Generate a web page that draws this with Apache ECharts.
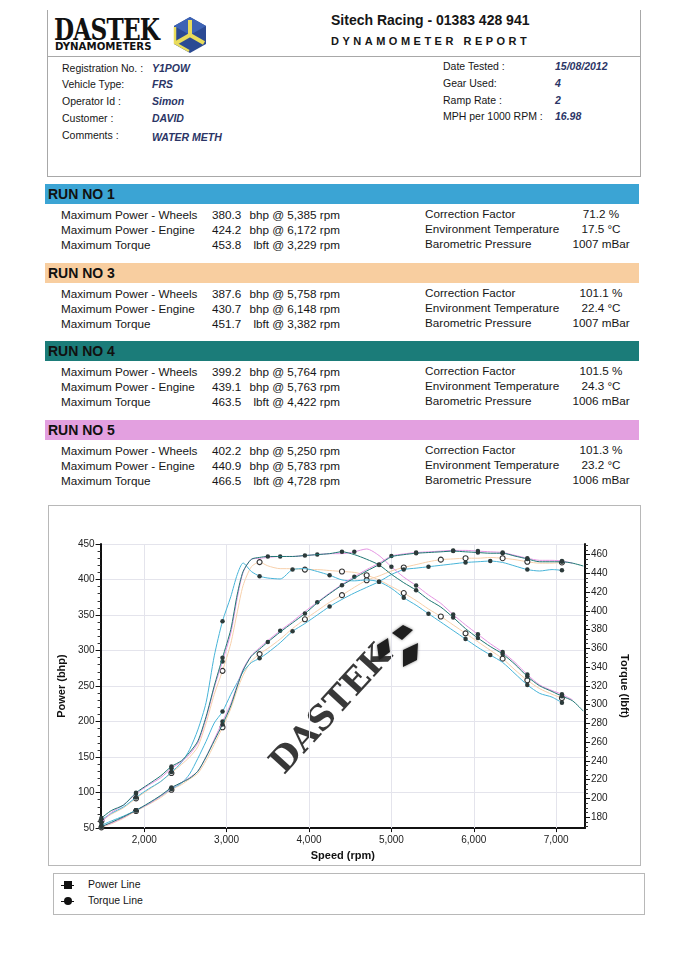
<!DOCTYPE html>
<html><head><meta charset="utf-8">
<script src="https://cdn.jsdelivr.net/npm/echarts@6.0.0/dist/echarts.min.js"></script>
<style>
html,body{margin:0;padding:0;background:#fff;}
#page{position:relative;width:686px;height:960px;overflow:hidden;font-family:"Liberation Sans",Arial,Helvetica,sans-serif;color:#161616;}
.t{position:absolute;white-space:nowrap;line-height:1;}
.ln{position:absolute;background:#a8a8a8;}
.bar{position:absolute;left:45px;width:594px;height:20px;}
#frame{position:absolute;left:48px;top:505px;width:593px;height:361px;border:1px solid #b8b8b8;box-sizing:border-box;}
#legend{position:absolute;left:53px;top:873px;width:592px;height:42px;border:1px solid #b8b8b8;box-sizing:border-box;}
#chart{position:absolute;left:48px;top:505px;width:593px;height:361px;}
</style></head>
<body><div id="page">
<div class="ln" style="left:47px;top:10px;width:1px;height:166px;"></div>
<div class="ln" style="left:640px;top:10px;width:1px;height:166px;"></div>
<div class="ln" style="left:47px;top:56px;width:594px;height:1px;"></div>
<div class="ln" style="left:47px;top:176px;width:594px;height:1px;"></div>
<div class="t" style="left:54px;top:16px;font-family:'DejaVu Serif',serif;font-weight:bold;font-size:29px;transform:scaleX(0.8);transform-origin:0 0;letter-spacing:-1px;color:#111;">DASTEK</div>
<div class="t" style="left:55px;top:41px;font-family:'DejaVu Sans',sans-serif;font-weight:bold;font-size:10.5px;transform:scaleX(0.97);transform-origin:0 0;color:#111;">DYNAMOMETERS</div>
<svg style="position:absolute;left:172px;top:16px;" width="36" height="38" viewBox="0 0 36 38">
<polygon points="18,1 34,10 34,28 18,37 2,28 2,10" fill="#2b4a93"/>
<polygon points="18,1 34,10 18,19 2,10" fill="#3d63b5"/>
<polyline points="18,19 18,4" stroke="#e9dc5a" stroke-width="4" fill="none"/>
<polyline points="18,19 4,27" stroke="#e9dc5a" stroke-width="4" fill="none"/>
<polyline points="18,19 32,27" stroke="#e9dc5a" stroke-width="4" fill="none"/>
<polyline points="3,11 3,27 17,35" stroke="#e9dc5a" stroke-width="2.5" fill="none"/>
</svg>
<div id="frame"></div>
<div id="legend"></div>
<div id="chart"></div>
</div>
<script>
// ---------- chart data ----------
const rpm = [1480,1600,1750,1900,2050,2200,2330,2450,2550,2650,2750,2850,2950,3050,3130,3200,3300,3400,3500,3650,3800,3950,4100,4250,4400,4550,4700,4850,5000,5150,5300,5450,5600,5750,5900,6050,6200,6350,6500,6650,6800,6950,7070,7200,7330];

const run1Power  = [54,60,67,75,84,95,105,113,126,148,172,198,214,238,255,270,283,289,297,311,327,338,350,362,372,381,389,397,407,414,416,418,420,422,424,425,426,424,419,414,412,414,413,null,null];
const run1Torque = [177,184,191,201,210,218,228,238,252,273,302,352,389,415,439,451,442,437,435,434,444,445,442,438,433,432,433,431,424,414,406,397,388,379,370,361,353,345,333,321,312,308,302,null,null];

const run3Power  = [51,56,64,74,83,93,104,111,119,127,145,168,192,218,245,265,285,295,303,316,331,344,356,368,378,389,399,405,412,417,421,425,428,429,430,430,431,430,428,425,423,423,424,null,null];
const run3Torque = [176,183,190,200,209,218,227,236,244,255,280,311,336,365,399,427,447,452,448,445,445,444,444,443,442,441,438,433,426,419,411,402,394,385,376,367,358,349,337,326,317,311,307,null,null];

const run4Power  = [52,58,66,75,85,96,107,114,120,130,150,173,196,222,250,272,292,302,312,326,339,352,367,380,392,402,412,421,432,435,437,438,439,440,439,438,437,437,433,429,425,425,425,423,419];
const run4Torque = [179,187,193,206,215,224,234,240,249,261,287,320,350,380,418,442,455,457,458,458,458,459,460,461,463,460,455,449,439,430,422,412,404,393,381,371,362,354,343,330,320,314,309,304,293];

const run5Power  = [52,57,65,75,84,95,106,114,121,130,150,175,200,225,252,274,293,304,314,328,341,355,368,381,393,404,414,423,433,436,438,439,440,441,441,440,439,438,434,430,427,427,426,423,null];
const run5Torque = [174,185,193,205,214,222,232,239,247,259,285,318,346,376,414,441,455,456,457,458,458,459,460,461,461,463,466,459,447,436,427,417,408,396,385,375,365,356,345,332,321,315,311,305,null];

// indices (into rpm) where the sampled points are marked
const run1Marks = [0,3,6,12,17,20,23,27,29,31,34,36,39,42];
const run3Marks = [0,3,6,12,17,21,24,26,29,32,34,37,39,42];
const run4Marks = [0,3,6,12,18,21,24,27,30,33,35,37,39,42];
const run5Marks = [0,3,6,12,19,22,25,28,30,33,35,37,39,42];

const speedTicks  = [2000,3000,4000,5000,6000,7000];
const torqueTicks = [180,200,220,240,260,280,300,320,340,360,380,400,420,440,460];
const torqueMinorTicks = [170,175,185,190,195,205,210,215,225,230,235,245,250,255,265,270,275,285,290,295,305,310,315,325,330,335,345,350,355,365,370,375,385,390,395,405,410,415,425,430,435,445,450,455,465,470];

// ---------- report text ----------
const runTitles = ['RUN NO 1','RUN NO 3','RUN NO 4','RUN NO 5'];
const runColors = ['#3ba4d4','#f8cea0','#1b7c79','#e3a0e0'];
const runTops = [184,263,341,420];
const rowLabels = ['Maximum Power - Wheels','Maximum Power - Engine','Maximum Torque'];
const rowValues = [
 [['380.3','bhp @ 5,385 rpm'],['424.2','bhp @ 6,172 rpm'],['453.8','lbft @ 3,229 rpm']],
 [['387.6','bhp @ 5,758 rpm'],['430.7','bhp @ 6,148 rpm'],['451.7','lbft @ 3,382 rpm']],
 [['399.2','bhp @ 5,764 rpm'],['439.1','bhp @ 5,763 rpm'],['463.5','lbft @ 4,422 rpm']],
 [['402.2','bhp @ 5,250 rpm'],['440.9','bhp @ 5,783 rpm'],['466.5','lbft @ 4,728 rpm']]
];
const envLabels = ['Correction Factor','Environment Temperature','Barometric Pressure'];
const envValues = [
 ['71.2 %','17.5 °C','1007 mBar'],
 ['101.1 %','22.4 °C','1007 mBar'],
 ['101.5 %','24.3 °C','1006 mBar'],
 ['101.3 %','23.2 °C','1006 mBar']
];
const infoLeft = [['Registration No. :','Y1POW',69],['Vehicle Type:','FRS',85],['Operator Id :','Simon',102],['Customer :','DAVID',119],['Comments :','WATER METH',136]];
const infoRight = [['Date Tested :','15/08/2012',67],['Gear Used:','4',84],['Ramp Rate :','2',101],['MPH per 1000 RPM :','16.98',117]];

const page = document.getElementById('page');
function txt(s, x, cy, size, extra, align){
  const d = document.createElement('div');
  d.className = 't';
  d.textContent = s;
  d.style.fontSize = size + 'px';
  d.style.top = (cy - size*0.56) + 'px';
  if (align === 'right') { d.style.right = (686 - x) + 'px'; }
  else if (align === 'center') { d.style.left = (x - 100) + 'px'; d.style.width = '200px'; d.style.textAlign = 'center'; }
  else d.style.left = x + 'px';
  if (extra) Object.assign(d.style, extra);
  page.appendChild(d);
  return d;
}
txt('Sitech Racing - 01383 428 941', 331, 21, 14, {fontWeight:'bold'});
txt('DYNAMOMETER REPORT', 331, 42, 11, {fontWeight:'bold', letterSpacing:'3.5px'});
const valStyle = {fontWeight:'bold', fontStyle:'italic', color:'#2b3566'};
infoLeft.forEach(r => { txt(r[0], 62, r[2], 10.5); txt(r[1], 152, r[2] + (r[1]==='WATER METH'?2:0), 10.5, valStyle); });
infoRight.forEach(r => { txt(r[0], 443, r[2], 10.5); txt(r[1], 555, r[2], 10.5, valStyle); });

runTitles.forEach((title, k) => {
  const top = runTops[k];
  const b = document.createElement('div');
  b.className = 'bar';
  b.style.top = top + 'px';
  b.style.background = runColors[k];
  page.appendChild(b);
  txt(title, 48, top + 11, 14, {fontWeight:'bold', color:'#111'});
  for (let r = 0; r < 3; r++) {
    const cy = top + 32 + r*15;
    txt(rowLabels[r], 61, cy, 11.7);
    txt(rowValues[k][r][0], 212, cy, 11.7);
    txt(rowValues[k][r][1], 340, cy, 11.7, null, 'right');
    txt(envLabels[r], 425, cy - 1, 11.7);
    txt(envValues[k][r], 601, cy - 1, 11.7, null, 'center');
  }
});

// legend
function legendItem(cy, label, shape){
  const l = document.createElement('div');
  l.style.cssText = 'position:absolute;left:61px;top:'+(cy-0.5)+'px;width:13px;height:1.5px;background:#111;';
  page.appendChild(l);
  const m = document.createElement('div');
  m.style.cssText = 'position:absolute;left:63.5px;top:'+(cy-4)+'px;width:8px;height:8px;background:#111;' + (shape==='circle'?'border-radius:50%;':'');
  page.appendChild(m);
  txt(label, 88, cy, 10.5);
}
legendItem(885, 'Power Line', 'square');
legendItem(901, 'Torque Line', 'circle');

// ---------- chart ----------
function makeSeries(name, vals, marks, color, yIdx, hollow, z){
  const data = [];
  vals.forEach((v, i) => {
    if (v == null) return;
    data.push({value: [rpm[i], v], symbol: marks.includes(i) ? 'circle' : 'none'});
  });
  return {
    type: 'line', name, yAxisIndex: yIdx, data, smooth: 0.25, z,
    showSymbol: true, symbolSize: hollow ? 5 : 4.5,
    lineStyle: {color, width: 1},
    itemStyle: hollow ? {color: '#ffffff', borderColor: '#333', borderWidth: 1.1} : {color: '#2c3a3a', borderWidth: 0},
    emphasis: {disabled: true}, silent: true
  };
}
const series = [
  makeSeries('Run 3 Power', run3Power, run3Marks, '#f7d0ab', 0, true, 3),
  makeSeries('Run 3 Torque', run3Torque, run3Marks, '#f7d0ab', 1, true, 3),
  makeSeries('Run 1 Power', run1Power, run1Marks, '#47b4d8', 0, false, 4),
  makeSeries('Run 1 Torque', run1Torque, run1Marks, '#47b4d8', 1, false, 4),
  makeSeries('Run 5 Power', run5Power, run5Marks, '#e494e2', 0, false, 5),
  makeSeries('Run 5 Torque', run5Torque, run5Marks, '#e494e2', 1, false, 5),
  makeSeries('Run 4 Power', run4Power, run4Marks, '#1e7673', 0, false, 6),
  makeSeries('Run 4 Torque', run4Torque, run4Marks, '#1e7673', 1, false, 6)
];
series[0].markLine = {
  silent: true, symbol: 'none', label: {show: false},
  lineStyle: {color: '#e4e4ec', type: 'solid', width: 1},
  data: speedTicks.map(v => ({xAxis: v})), z: 1
};

const chart = echarts.init(document.getElementById('chart'), null, {renderer: 'canvas'});
const axisNameStyle = {fontWeight: 'bold', fontSize: 11, color: '#111', fontFamily: 'Liberation Sans, Arial, sans-serif'};
const labelStyle = {fontSize: 10, color: '#222', fontFamily: 'Liberation Sans, Arial, sans-serif'};
chart.setOption({
  animation: false,
  backgroundColor: 'transparent',
  grid: {left: 49, top: 39, width: 488, height: 286, containLabel: false},
  xAxis: {
    type: 'value', min: 1470, max: 7350,
    name: 'Speed (rpm)', nameLocation: 'middle', nameGap: 19, nameTextStyle: axisNameStyle,
    axisLine: {show: true, lineStyle: {color: '#111', width: 2}},
    axisTick: {show: true, customValues: speedTicks, length: 4, lineStyle: {color: '#111'}},
    axisLabel: Object.assign({customValues: speedTicks, margin: 7, formatter: v => Number(v).toLocaleString('en-US')}, labelStyle),
    splitLine: {show: false}
  },
  yAxis: [
    {
      type: 'value', min: 50, max: 450, interval: 50, position: 'left',
      name: 'Power (bhp)', nameLocation: 'middle', nameGap: 31, nameRotate: 90, nameTextStyle: axisNameStyle,
      axisLine: {show: true, lineStyle: {color: '#111', width: 2}},
      axisTick: {show: true, length: 5, lineStyle: {color: '#111'}},
      minorTick: {show: true, splitNumber: 5, length: 3, lineStyle: {color: '#333'}},
      axisLabel: Object.assign({margin: 6}, labelStyle),
      splitLine: {show: true, lineStyle: {color: '#e4e4ec', width: 1}}
    },
    {
      type: 'value', min: 168.3, max: 471.3, position: 'right',
      name: 'Torque (lbft)', nameLocation: 'middle', nameGap: 30, nameRotate: -90, nameTextStyle: axisNameStyle,
      axisLine: {show: true, lineStyle: {color: '#111', width: 2}},
      axisTick: {show: true, customValues: torqueTicks, length: 5, lineStyle: {color: '#111'}},
      axisLabel: Object.assign({customValues: torqueTicks, margin: 6}, labelStyle),
      splitLine: {show: false}
    },
    {
      type: 'value', min: 168.3, max: 471.3, position: 'right',
      axisLine: {show: false},
      axisTick: {show: true, customValues: torqueMinorTicks, length: 3, lineStyle: {color: '#333'}},
      axisLabel: {show: false},
      splitLine: {show: false}
    }
  ],
  graphic: [
    {type: 'text', x: 284, y: 205, rotation: 0.83, z: 1, silent: true,
     style: {text: 'DASTEK', font: 'bold 34px "DejaVu Serif", serif', fill: 'rgba(28,28,28,0.88)', align: 'center', verticalAlign: 'middle', shadowBlur: 3, shadowColor: 'rgba(0,0,0,0.5)'}},
    {type: 'polygon', z: 1, silent: true, shape: {points: [[344,128],[355,120],[365,125],[354,135]]}, style: {fill: '#1e1e1e', shadowBlur: 3, shadowColor: 'rgba(0,0,0,0.5)'}},
    {type: 'polygon', z: 1, silent: true, shape: {points: [[329,140],[340,133],[342,147],[331,155]]}, style: {fill: '#1e1e1e', shadowBlur: 3, shadowColor: 'rgba(0,0,0,0.5)'}},
    {type: 'polygon', z: 1, silent: true, shape: {points: [[355,145],[370,138],[369,155],[355,162]]}, style: {fill: '#1e1e1e', shadowBlur: 3, shadowColor: 'rgba(0,0,0,0.5)'}}
  ],
  series
});
</script>
</body></html>
